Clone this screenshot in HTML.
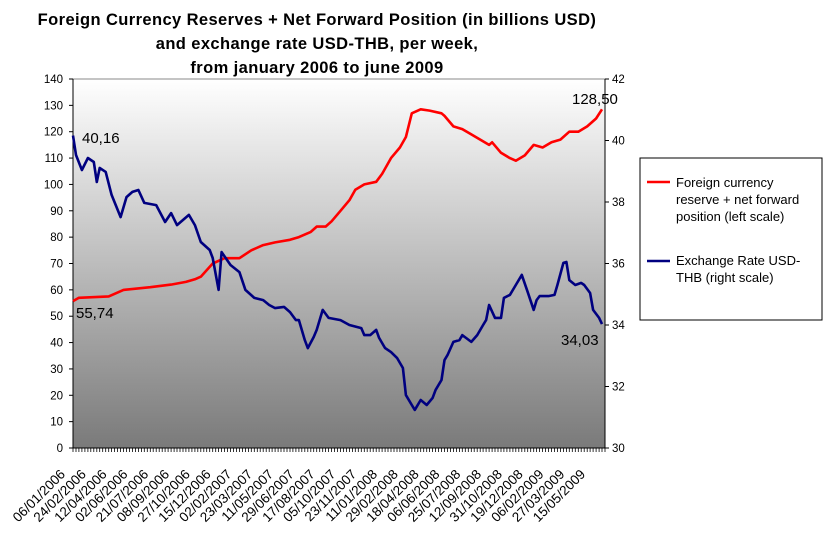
<!DOCTYPE html>
<html><head><meta charset="utf-8">
<style>
body{margin:0;background:#fff;width:826px;height:559px;overflow:hidden;font-family:"Liberation Sans",Arial,sans-serif}
.title{position:absolute;left:0;width:634px;top:8px;text-align:center;font-weight:bold;font-size:16.5px;letter-spacing:0.4px;line-height:24px;color:#000}
</style></head><body>
<div class="title">Foreign Currency Reserves + Net Forward Position (in billions USD)<br>and exchange rate USD-THB, per week,<br>from january 2006 to june 2009</div>
<svg id="c" width="826" height="559" style="position:absolute;left:0;top:0">
<defs><linearGradient id="bg" x1="0" y1="0" x2="0" y2="1"><stop offset="0" stop-color="#ffffff"/><stop offset="1" stop-color="#7a7a7a"/></linearGradient></defs>
</svg>
<script>
const xLabels=["06/01/2006","24/02/2006","12/04/2006","02/06/2006","21/07/2006","08/09/2006","27/10/2006","15/12/2006","02/02/2007","23/03/2007","11/05/2007","29/06/2007","17/08/2007","05/10/2007","23/11/2007","11/01/2008","29/02/2008","18/04/2008","06/06/2008","25/07/2008","12/09/2008","31/10/2008","19/12/2008","06/02/2009","27/03/2009","15/05/2009"];
const leftTicks=[0,10,20,30,40,50,60,70,80,90,100,110,120,130,140];
const rightTicks=[30,32,34,36,38,40,42];
const reserveWeeks=[0,2,12,17,26,33,38,41,43,47,51,56,60,64,68,73,76,80,82,85,87,90,93,95,98,102,104,107,110,112,114,117,120,124,125,128,131,134,137,140,141,144,147,149,152,155,158,161,164,167,170,173,176,178];
const reserveValues=[55.74,57,57.5,60,61,62,63,64,65,70,72,72,75,77,78,79,80,82,84,84,86,90,94,98,100,101,104,110,114,118,127,128.5,128,127,126,122,121,119,117,115,116,112,110,109,111,115,114,116,117,120,120,122,125,128.5];
const rateWeeks=[0,1,3,5,7,8,9,11,13,16,18,20,22,24,28,31,33,35,39,41,43,46,47,49,50,53,56,58,61,64,66,68,71,73,75,76,78,79,81,82,84,86,90,93,97,98,100,102,103,105,107,109,111,112,114,115,117,119,121,122,124,125,126,128,130,131,134,136,138,139,140,142,144,145,147,149,151,153,155,156,157,160,162,163,165,166,167,169,171,172,174,175,177,178];
const rateValues=[40.16,39.53,39.04,39.43,39.3,38.65,39.11,38.98,38.23,37.51,38.16,38.33,38.39,37.97,37.9,37.35,37.64,37.25,37.58,37.25,36.7,36.44,36.18,35.14,36.37,35.95,35.72,35.14,34.88,34.81,34.65,34.55,34.59,34.42,34.16,34.16,33.51,33.25,33.61,33.84,34.49,34.23,34.16,34,33.9,33.67,33.67,33.84,33.58,33.25,33.12,32.93,32.6,31.72,31.4,31.24,31.56,31.4,31.63,31.89,32.21,32.86,33.02,33.45,33.51,33.67,33.45,33.67,34,34.16,34.65,34.23,34.23,34.88,34.98,35.3,35.63,35.07,34.49,34.81,34.94,34.94,34.98,35.3,36.02,36.05,35.46,35.3,35.37,35.3,35.04,34.49,34.23,34.03];
const nWeeks=180;
const X0=73,X1=605,Y0=448,Y1=79;
const xs=w=>X0+(X1-X0)*w/(nWeeks-1);
const yl=v=>Y0-(Y0-Y1)*v/140;
const yr=v=>Y0-(Y0-Y1)*(v-30)/12;
const svg=document.getElementById('c');const NS='http://www.w3.org/2000/svg';
function mk(t,a,p){const e=document.createElementNS(NS,t);for(const k in a)e.setAttribute(k,a[k]);(p||svg).appendChild(e);return e;}
let e=mk('rect',{x:X0,y:Y1,width:X1-X0,height:Y0-Y1,fill:'url(#bg)'});


mk('line',{x1:X0,y1:Y1,x2:X1,y2:Y1,stroke:'#888','stroke-width':1});
mk('line',{x1:X0,y1:Y1,x2:X0,y2:Y0,stroke:'#000'});
mk('line',{x1:X1,y1:Y1,x2:X1,y2:Y0,stroke:'#000'});
mk('line',{x1:X0,y1:Y0,x2:X1,y2:Y0,stroke:'#000'});
let tk='';for(let w=0;w<nWeeks;w++){const x=xs(w).toFixed(1);tk+=`M${x} ${Y0}V${Y0+4}`;}
mk('path',{d:tk,stroke:'#000','stroke-width':0.8});
leftTicks.forEach(v=>{const y=yl(v);mk('line',{x1:X0-4,y1:y,x2:X0,y2:y,stroke:'#000'});
const t=mk('text',{x:63,y:y+4,'text-anchor':'end','font-size':11.5,fill:'#000'});t.textContent=v;

});
rightTicks.forEach(v=>{const y=yr(v);mk('line',{x1:X1,y1:y,x2:X1+4,y2:y,stroke:'#000'});
const t=mk('text',{x:612,y:y+4,'font-size':11.5,fill:'#000'});t.textContent=v;

});
xLabels.forEach((s,i)=>{const x=xs(i*7)-7,y=475;
const t=mk('text',{x:x,y:y,'text-anchor':'end','font-size':13.5,fill:'#000',transform:`rotate(-45 ${x} ${y})`});t.textContent=s;

});
const red=mk('path',{d:reserveWeeks.map((w,i)=>(i?'L':'M')+xs(w).toFixed(1)+' '+yl(reserveValues[i]).toFixed(1)).join(''),fill:'none',stroke:'#ff0000','stroke-width':2.6,'stroke-linejoin':'round'});


const blue=mk('path',{d:rateWeeks.map((w,i)=>(i?'L':'M')+xs(w).toFixed(1)+' '+yr(rateValues[i]).toFixed(1)).join(''),fill:'none',stroke:'#000080','stroke-width':2.6,'stroke-linejoin':'round'});


function lab(txt,x,y,n){const t=mk('text',{x:x,y:y,'font-size':15,fill:'#000'});t.textContent=txt;

}
lab('40,16',82,143,'label-rate-start');
lab('55,74',76,318,'label-reserve-start');
lab('128,50',572,104,'label-reserve-end');
lab('34,03',561,345,'label-rate-end');
const lg=mk('g',{});


mk('rect',{x:640,y:158,width:182,height:162,fill:'#fff',stroke:'#000'},lg);
mk('line',{x1:647,y1:182,x2:670,y2:182,stroke:'#ff0000','stroke-width':2.6},lg);
mk('line',{x1:647,y1:261,x2:670,y2:261,stroke:'#000080','stroke-width':2.6},lg);
[['Foreign currency',187],['reserve + net forward',204],['position (left scale)',221],['Exchange Rate USD-',265],['THB (right scale)',282]].forEach(([s,y])=>{const t=mk('text',{x:676,y:y,'font-size':13,fill:'#000'},lg);t.textContent=s;

});
</script>
</body></html>
